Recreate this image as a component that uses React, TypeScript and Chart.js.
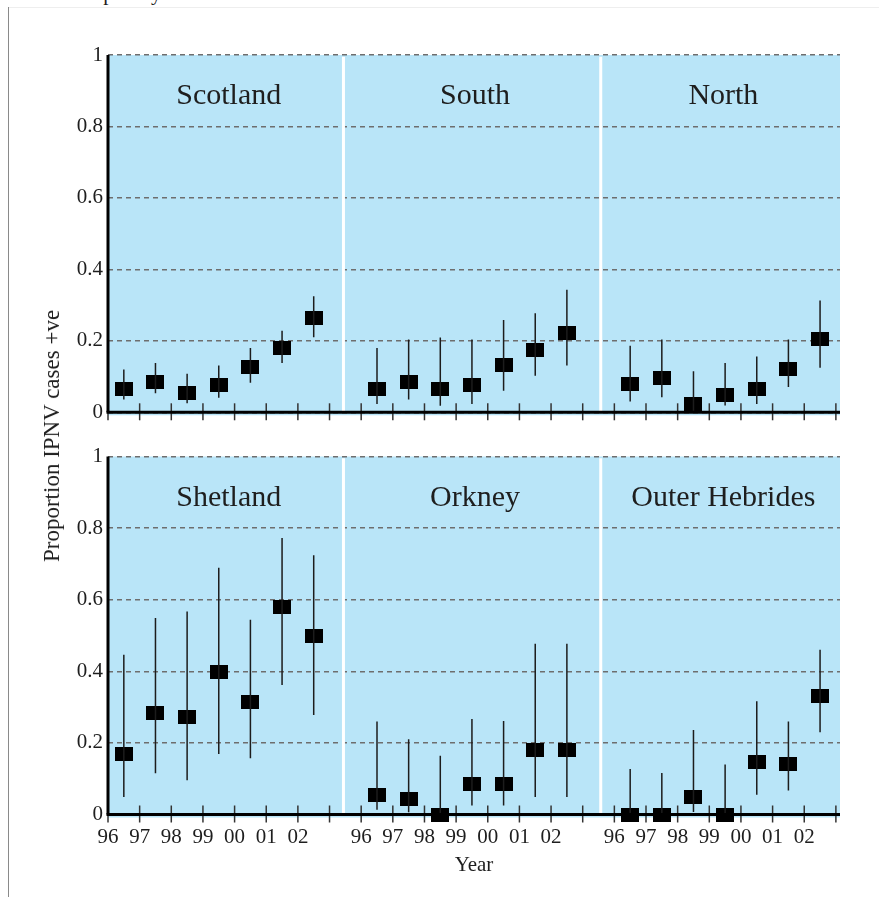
import React, { useEffect, useRef } from 'react';
import { Chart, registerables } from 'chart.js';

Chart.register(...registerables);

// ---------- data ----------
const YEARS = ['96', '97', '98', '99', '00', '01', '02'];
const TOP_TITLES = ['Scotland', 'South', 'North'];
const BOTTOM_TITLES = ['Shetland', 'Orkney', 'Outer Hebrides'];
const Y_TICKS = [0, 0.2, 0.4, 0.6, 0.8, 1];

const SCOTLAND_P = [0.065, 0.084, 0.053, 0.077, 0.126, 0.18, 0.264];
const SCOTLAND_LO = [0.036, 0.053, 0.025, 0.041, 0.083, 0.138, 0.21];
const SCOTLAND_HI = [0.12, 0.138, 0.108, 0.131, 0.18, 0.228, 0.325];

const SOUTH_P = [0.066, 0.085, 0.066, 0.077, 0.132, 0.175, 0.222];
const SOUTH_LO = [0.023, 0.036, 0.018, 0.023, 0.06, 0.102, 0.131];
const SOUTH_HI = [0.18, 0.204, 0.209, 0.204, 0.258, 0.277, 0.343];

const NORTH_P = [0.078, 0.096, 0.024, 0.048, 0.066, 0.12, 0.205];
const NORTH_LO = [0.03, 0.042, 0.0, 0.019, 0.023, 0.071, 0.125];
const NORTH_HI = [0.186, 0.204, 0.115, 0.138, 0.156, 0.204, 0.313];

const SHETLAND_P = [0.17, 0.283, 0.272, 0.398, 0.315, 0.579, 0.5];
const SHETLAND_LO = [0.049, 0.115, 0.096, 0.169, 0.157, 0.362, 0.278];
const SHETLAND_HI = [0.446, 0.549, 0.567, 0.689, 0.544, 0.772, 0.724];

const ORKNEY_P = [0.055, 0.043, 0.0, 0.085, 0.085, 0.181, 0.181];
const ORKNEY_LO = [0.013, 0.006, 0.0, 0.025, 0.025, 0.049, 0.049];
const ORKNEY_HI = [0.26, 0.21, 0.164, 0.267, 0.261, 0.477, 0.477];

const HEBRIDES_P = [0.0, 0.0, 0.049, 0.0, 0.146, 0.14, 0.332];
const HEBRIDES_LO = [0.0, 0.0, 0.007, 0.0, 0.055, 0.067, 0.23];
const HEBRIDES_HI = [0.127, 0.116, 0.236, 0.14, 0.316, 0.26, 0.46];

// ---------- layout of the x axis (axis units) ----------
const PANEL_START = [0, 8, 16];
const SEPARATORS = [7.44, 15.57];
const X_MAX = 23.13;

const FONT = "'Liberation Serif', 'Times New Roman', serif";
const BG = '#b9e5f8';

type Series = { p: number[]; lo: number[]; hi: number[] };

const TOP_SERIES: Series[] = [
  { p: SCOTLAND_P, lo: SCOTLAND_LO, hi: SCOTLAND_HI },
  { p: SOUTH_P, lo: SOUTH_LO, hi: SOUTH_HI },
  { p: NORTH_P, lo: NORTH_LO, hi: NORTH_HI },
];
const BOTTOM_SERIES: Series[] = [
  { p: SHETLAND_P, lo: SHETLAND_LO, hi: SHETLAND_HI },
  { p: ORKNEY_P, lo: ORKNEY_LO, hi: ORKNEY_HI },
  { p: HEBRIDES_P, lo: HEBRIDES_LO, hi: HEBRIDES_HI },
];

const panelPlugin = {
  id: 'panels',
  beforeDraw(chart: any) {
    const { ctx, chartArea: a } = chart;
    ctx.save();
    ctx.fillStyle = BG;
    ctx.fillRect(a.left, a.top, a.right - a.left, a.bottom - a.top + 3);
    ctx.restore();
  },
  beforeDatasetsDraw(chart: any, _args: any, opts: any) {
    const { ctx, scales } = chart;
    const xs = scales.x, ys = scales.y;
    ctx.save();
    ctx.strokeStyle = '#ffffff';
    ctx.lineWidth = 3;
    SEPARATORS.forEach((s) => {
      const px = xs.getPixelForValue(s);
      ctx.beginPath();
      ctx.moveTo(px, ys.getPixelForValue(0.995));
      ctx.lineTo(px, ys.getPixelForValue(0));
      ctx.stroke();
    });
    ctx.fillStyle = '#1e1e1e';
    ctx.font = `30px ${FONT}`;
    ctx.textAlign = 'center';
    ctx.textBaseline = 'alphabetic';
    const bounds = [0, SEPARATORS[0], SEPARATORS[1], X_MAX];
    (opts.titles || []).forEach((t: string, i: number) => {
      const cx = xs.getPixelForValue((bounds[i] + bounds[i + 1]) / 2) + 3;
      ctx.fillText(t, cx, ys.getPixelForValue(0.863));
    });
    ctx.restore();
  },
  afterDatasetsDraw(chart: any) {
    const { ctx, chartArea: a, scales } = chart;
    const xs = scales.x, ys = scales.y;
    const y0 = ys.getPixelForValue(0);
    ctx.save();
    ctx.strokeStyle = '#333';
    ctx.lineWidth = 1.5;
    PANEL_START.forEach((st) => {
      for (let i = 0; i <= YEARS.length; i++) {
        const px = xs.getPixelForValue(st + i);
        ctx.beginPath();
        ctx.moveTo(px, y0 - 9);
        ctx.lineTo(px, y0 + 8);
        ctx.stroke();
      }
    });
    ctx.strokeStyle = '#000';
    ctx.lineWidth = 3;
    ctx.beginPath();
    ctx.moveTo(a.left - 1.5, y0);
    ctx.lineTo(a.right, y0);
    ctx.stroke();
    ctx.beginPath();
    ctx.moveTo(a.left, a.top);
    ctx.lineTo(a.left, y0);
    ctx.stroke();
    ctx.restore();
  },
};

function makeBox(): HTMLCanvasElement {
  const c = document.createElement('canvas');
  c.width = 18;
  c.height = 14;
  const g = c.getContext('2d')!;
  g.fillStyle = '#000';
  g.fillRect(0, 0, 18, 14);
  return c;
}

function buildChart(canvas: HTMLCanvasElement, series: Series[], titles: string[], bottom: boolean) {
  const box = makeBox();
  const bars: any[] = [];
  const pts: any[] = [];
  series.forEach((s, k) => {
    s.p.forEach((v, i) => {
      const x = PANEL_START[k] + i + 0.5;
      bars.push({ x, y: s.lo[i] }, { x, y: s.hi[i] }, { x, y: null });
      pts.push({ x, y: v });
    });
  });
  const labelPos: number[] = [];
  const labelTxt: string[] = [];
  PANEL_START.forEach((st) => YEARS.forEach((y, i) => { labelPos.push(st + i); labelTxt.push(y); }));

  return new Chart(canvas, {
    type: 'scatter',
    data: {
      datasets: [
        {
          type: 'line',
          data: bars,
          borderColor: '#1c1c1c',
          borderWidth: 1.5,
          pointRadius: 0,
          spanGaps: false,
          clip: false,
        } as any,
        {
          type: 'scatter',
          data: pts,
          pointStyle: box as any,
          pointRadius: 9,
          clip: false,
        } as any,
      ],
    },
    options: {
      responsive: false,
      animation: false,
      devicePixelRatio: 1,
      events: [],
      layout: { padding: bottom ? { left: 0, right: 39, top: 26.5, bottom: 0 } : { left: 0, right: 39, top: 55, bottom: 17.7 } },
      plugins: {
        legend: { display: false },
        tooltip: { enabled: false },
        panels: { titles },
      } as any,
      scales: {
        x: {
          type: 'linear',
          min: 0,
          max: X_MAX,
          display: bottom,
          afterBuildTicks: (s: any) => { s.ticks = labelPos.map((v) => ({ value: v })); },
          afterFit: (s: any) => { s.height = bottom ? 82.5 : 0; },
          grid: { display: false, drawTicks: false },
          border: { display: false },
          ticks: {
            autoSkip: false,
            maxRotation: 0,
            minRotation: 0,
            padding: 10,
            color: '#1e1e1e',
            font: { family: FONT, size: 21 },
            callback: (_v: any, i: number) => labelTxt[i],
          },
          title: {
            display: bottom,
            text: 'Year',
            color: '#1e1e1e',
            font: { family: FONT, size: 21, lineHeight: 1.2 },
            padding: { top: 0, bottom: 19 },
          },
        },
        y: {
          type: 'linear',
          min: 0,
          max: 1,
          afterBuildTicks: (s: any) => { s.ticks = Y_TICKS.map((v) => ({ value: v })); },
          afterFit: (s: any) => { s.width = 108; },
          grid: { color: '#6e6e6e', lineWidth: 1.5, drawTicks: false },
          border: { display: false, dash: [5, 4] },
          ticks: {
            padding: 5,
            color: '#1e1e1e',
            font: { family: FONT, size: 21 },
            callback: (v: any) => (v === 0 ? '0' : v === 1 ? '1' : Number(v).toFixed(1)),
          },
        },
      },
    } as any,
    plugins: [panelPlugin as any],
  });
}

export default function App() {
  const topRef = useRef<HTMLCanvasElement>(null);
  const botRef = useRef<HTMLCanvasElement>(null);

  useEffect(() => {
    const c1 = buildChart(topRef.current!, TOP_SERIES, TOP_TITLES, false);
    const c2 = buildChart(botRef.current!, BOTTOM_SERIES, BOTTOM_TITLES, true);
    return () => { c1.destroy(); c2.destroy(); };
  }, []);

  return (
    <div style={{ position: 'fixed', left: 0, top: 0, width: 879, height: 897, background: '#fff', overflow: 'hidden' }}>
      <div style={{ position: 'absolute', left: 8, top: 7, width: 871, height: 1, background: '#eeeeee' }} />
      <div style={{ position: 'absolute', left: 8, top: 7, width: 1, height: 890, background: '#8a8a8a' }} />
      <div style={{ position: 'absolute', left: 0, top: 0, width: 879, height: 7, overflow: 'hidden' }}>
        <div style={{ position: 'absolute', left: 67, top: -17, fontFamily: FONT, fontSize: 21, lineHeight: '21px', whiteSpace: 'nowrap', color: '#1e1e1e' }}>
          complexity
        </div>
      </div>
      <canvas ref={topRef} width={879} height={430} style={{ position: 'absolute', left: 0, top: 0, width: 879, height: 430 }} />
      <canvas ref={botRef} width={879} height={467} style={{ position: 'absolute', left: 0, top: 430, width: 879, height: 467 }} />
      <div
        style={{
          position: 'absolute',
          left: 52,
          top: 436,
          transform: 'translate(-50%, -50%) rotate(-90deg)',
          fontFamily: FONT,
          fontSize: 23,
          whiteSpace: 'nowrap',
          color: '#1e1e1e',
        }}
      >
        Proportion IPNV cases +ve
      </div>
    </div>
  );
}
